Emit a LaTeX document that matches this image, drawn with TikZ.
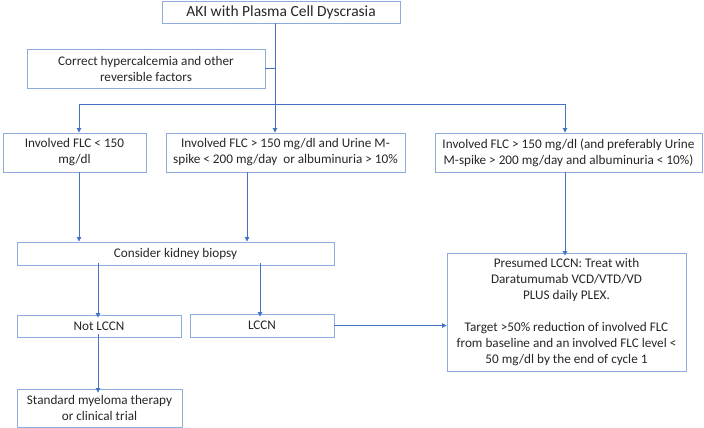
\documentclass[tikz,border=0pt]{standalone}
\usepackage{fontspec}
\setmainfont{Carlito}
\usetikzlibrary{arrows.meta}
\definecolor{boxc}{HTML}{8FAADC}
\definecolor{arrc}{HTML}{4472C4}
\tikzset{
  box/.style={draw=boxc, line width=0.9pt, align=center, inner sep=0pt, font=\fontsize{13.2}{16}\selectfont, text=black!85},
  arr/.style={draw=arrc, line width=0.9pt, -{Triangle[length=4.5pt,width=4.5pt]}},
  ln/.style={draw=arrc, line width=0.9pt}
}
\begin{document}
\begin{tikzpicture}[x=1pt,y=-1pt]
\useasboundingbox (0,0) rectangle (704,428);
\node[box, minimum width=238pt, minimum height=22pt, font=\fontsize{15.5}{18}\selectfont] (top) at (281,12) {AKI with Plasma Cell Dyscrasia};
\node[box, minimum width=238pt, minimum height=39pt] (corr) at (146,68.5) {Correct hypercalcemia and other\\reversible factors};
\node[box, minimum width=143pt, minimum height=39pt] (b1) at (74.5,152.5) {Involved FLC < 150\\mg/dl};
\node[box, minimum width=239pt, minimum height=39pt] (b2) at (285.5,152.5) {Involved FLC > 150 mg/dl and Urine M-\\spike < 200 mg/day\ \ or albuminuria > 10\%};
\node[box, minimum width=267pt, minimum height=39pt] (b3) at (568.5,152.5) {Involved FLC > 150 mg/dl (and preferably Urine\\M-spike > 200 mg/day and albuminuria < 10\%)};
\node[box, minimum width=317pt, minimum height=23pt] (kb) at (175.5,253.5) {Consider kidney biopsy};
\node[box, minimum width=164pt, minimum height=22pt] (not) at (99,326) {Not LCCN};
\node[box, minimum width=144pt, minimum height=23pt] (lccn) at (262,325.5) {LCCN};
\node[box, minimum width=165pt, minimum height=38pt] (std) at (99.5,408) {Standard myeloma therapy\\or clinical trial};
\node[box, minimum width=239pt, minimum height=118pt] (pres) at (566.5,312) {Presumed LCCN: Treat with\\Daratumumab VCD/VTD/VD\\PLUS daily PLEX.\\[16pt]Target >50\% reduction of involved FLC\\from baseline and an involved FLC level <\\50 mg/dl by the end of cycle 1};
\coordinate (j) at (275,104);
\coordinate (jl) at (79,104);
\coordinate (jr) at (565,104);
\coordinate (c1) at (79,200);
\coordinate (c2) at (247,200);
\coordinate (k1) at (98,290);
\coordinate (k2) at (260,290);
\draw[arr] (top.south -| j) -- (b2.north -| j);
\draw[ln] (corr.east) -- (corr.east -| j);
\draw[ln] (jl) -- (jr);
\draw[arr] (jl) -- (b1.north -| jl);
\draw[arr] (jr) -- (b3.north -| jr);
\draw[arr] (b1.south -| c1) -- (kb.north -| c1);
\draw[arr] (b2.south -| c2) -- (kb.north -| c2);
\draw[arr] ([yshift=2pt]kb.south -| k1) -- ([yshift=-3pt]not.north -| k1);
\draw[arr] ([yshift=2pt]kb.south -| k2) -- ([yshift=-3pt]lccn.north -| k2);
\draw[arr] ([yshift=3pt]not.south -| k1) -- ([yshift=-4pt]std.north -| k1);
\draw[arr] (lccn.east) -- (pres.west |- lccn.east);
\draw[arr] (b3.south -| jr) -- ([yshift=-3pt]pres.north -| jr);
\end{tikzpicture}
\end{document}
